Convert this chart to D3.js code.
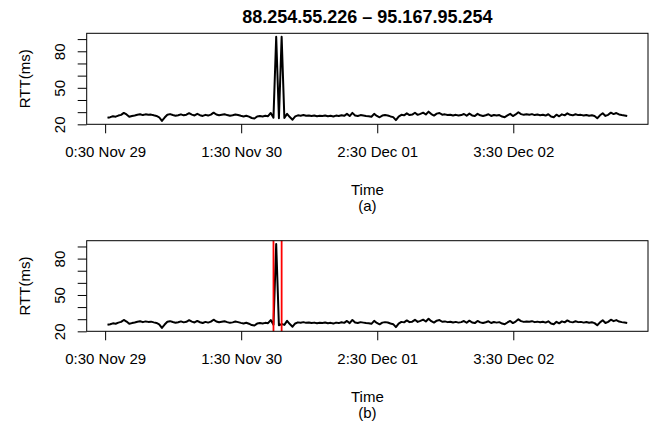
<!DOCTYPE html>
<html>
<head>
<meta charset="utf-8">
<script src="https://cdn.jsdelivr.net/npm/d3@7"></script>
<style>
  body { margin: 0; background: #fff; }
  svg { display: block; font-family: "Liberation Sans", Arial, sans-serif; }
</style>
</head>
<body>
<svg id="chart" width="656" height="430"></svg>
<script>
// samples every 30 min starting Nov 29 00:56
var startTime = "2013-11-29T00:56:00";
var stepMinutes = 30;

var rttA = [
  25.4, 25.9, 26.6, 26.3, 27.2, 27.8, 29.4, 28.1, 26.2, 26.8, 27.3, 27.9, 28.3, 27.6, 28.2, 27.8,
  28.0, 27.4, 26.9, 25.8, 22.8, 25.6, 27.9, 28.4, 27.7, 27.1, 27.5, 28.2, 27.4, 27.9, 29.2, 28.0,
  27.3, 28.6, 27.5, 26.9, 27.8, 27.2, 28.0, 29.6, 28.1, 27.5, 27.9, 28.3, 27.6, 27.0, 27.4, 28.1,
  27.6, 27.0, 26.5, 27.1, 26.3, 25.2, 24.8, 26.4, 26.8, 26.5, 27.0, 26.7, 29.3, 25.5, 92.0, 25.0,
  92.0, 25.3, 28.6, 26.0, 23.8, 26.5, 27.4, 27.1, 27.6, 27.0, 27.3, 26.8, 27.2, 26.6, 27.1, 26.9,
  27.3, 26.7, 27.0, 26.4, 27.2, 26.8, 27.5, 27.0, 28.6, 26.8, 29.4, 27.3, 26.9, 27.6, 27.2, 26.8,
  26.6, 26.2, 28.6, 26.9, 25.8, 27.2, 27.6, 27.3, 26.5, 25.9, 23.5, 26.4, 27.8, 27.4, 29.0, 27.6,
  28.0, 29.5, 27.8, 28.6, 29.6, 28.1, 30.4, 28.4, 27.2, 28.8, 29.3, 27.9, 28.2, 27.6, 27.9, 27.3,
  27.8, 27.2, 27.6, 28.5, 27.1, 28.8, 27.3, 26.8, 28.6, 27.4, 26.9, 27.5, 28.3, 26.9, 27.7, 27.2,
  27.6, 26.4, 25.9, 27.3, 28.6, 26.8, 28.1, 29.9, 28.4, 27.8, 28.2, 27.9, 28.4, 27.6, 28.0, 27.5,
  27.9, 27.2, 28.3, 26.4, 25.8, 27.9, 26.6, 28.2, 27.4, 29.0, 27.8, 27.4, 28.3, 27.6, 27.8, 27.2,
  27.7, 27.1, 27.5, 26.8, 25.0, 27.4, 29.1, 26.9, 27.8, 29.6, 28.4, 29.3, 28.1, 27.6, 27.3, 26.9
];

// panel (b): second spike sample removed
var cleanedIndex = [64];
var cleanedValue = [26.0];

// detected change points drawn in red on panel (b)
var changeTimes = ["2013-11-30T07:26:00", "2013-11-30T08:56:00"];

var xTickTimes = ["2013-11-29T00:30:00", "2013-11-30T01:30:00", "2013-12-01T02:30:00", "2013-12-02T03:30:00"];
var yTicks = [20, 30, 40, 50, 60, 70, 80, 90];
var yTickLabels = [20, 50, 80];

var title = "88.254.55.226 \u2013 95.167.95.254";
var xLabel = "Time";
var yLabel = "RTT(ms)";

var parseTime = d3.timeParse("%Y-%m-%dT%H:%M:%S");
var formatTick = d3.timeFormat("%-H:%M %b %d");

var t0 = parseTime(startTime);
var times = rttA.map(function (d, i) {
  return d3.timeMinute.offset(t0, i * stepMinutes);
});

var rttB = rttA.slice();
cleanedIndex.forEach(function (idx, k) {
  rttB[idx] = cleanedValue[k];
});

var svg = d3.select("#chart");

var left = 86.7,
  right = 648;

// R style 4% padding on both axes
function padded(ext) {
  var pad = (ext[1] - ext[0]) * 0.04;
  return [ext[0] - pad, ext[1] + pad];
}

var tExt = d3.extent(times, function (d) { return d.getTime(); });
var xScale = d3.scaleTime()
  .domain(padded(tExt).map(function (d) { return new Date(d); }))
  .range([left, right]);

var yDomain = padded(d3.extent(rttA));

function drawPanel(top, bottom, values, sub, marks) {
  var yScale = d3.scaleLinear().domain(yDomain).range([bottom, top]);
  var g = svg.append("g");

  var line = d3.line()
    .x(function (d, i) { return xScale(times[i]); })
    .y(function (d) { return yScale(d); });

  g.append("path")
    .datum(values)
    .attr("d", line)
    .attr("fill", "none")
    .attr("stroke", "#000")
    .attr("stroke-width", 2)
    .attr("stroke-linejoin", "round");

  if (marks) {
    g.selectAll("line.mark")
      .data(marks)
      .enter()
      .append("line")
      .attr("class", "mark")
      .attr("x1", function (d) { return xScale(parseTime(d)); })
      .attr("x2", function (d) { return xScale(parseTime(d)); })
      .attr("y1", top)
      .attr("y2", bottom)
      .attr("stroke", "#ff0000")
      .attr("stroke-width", 1.8);
  }

  g.append("rect")
    .attr("x", left)
    .attr("y", top)
    .attr("width", right - left)
    .attr("height", bottom - top)
    .attr("fill", "none")
    .attr("stroke", "#000")
    .attr("stroke-width", 1);

  // x axis
  var xAxis = d3.axisBottom(xScale)
    .tickValues(xTickTimes.map(parseTime))
    .tickFormat(formatTick)
    .tickSize(9)
    .tickPadding(14);
  var gx = g.append("g")
    .attr("transform", "translate(0," + bottom + ")")
    .call(xAxis);
  gx.select(".domain").remove();
  gx.selectAll(".tick line").attr("stroke", "#000");
  gx.selectAll(".tick text")
    .attr("font-size", 15)
    .attr("font-family", "Liberation Sans, Arial, sans-serif")
    .attr("fill", "#000")
    .attr("dy", null)
    .attr("y", 33);

  // y axis
  var yAxis = d3.axisLeft(yScale)
    .tickValues(yTicks)
    .tickFormat(function (d) { return yTickLabels.indexOf(d) >= 0 ? d : ""; })
    .tickSize(9);
  var gy = g.append("g")
    .attr("transform", "translate(" + left + ",0)")
    .call(yAxis);
  gy.select(".domain").remove();
  gy.selectAll(".tick line").attr("stroke", "#000");
  gy.selectAll(".tick text")
    .attr("font-size", 15)
    .attr("font-family", "Liberation Sans, Arial, sans-serif")
    .attr("fill", "#000")
    .attr("x", null)
    .attr("dy", null)
    .attr("text-anchor", "middle")
    .attr("transform", "translate(-22,0) rotate(-90)");

  var midX = (left + right) / 2;
  g.append("text")
    .attr("x", midX)
    .attr("y", bottom + 71)
    .attr("text-anchor", "middle")
    .attr("font-size", 15)
    .text(xLabel);

  g.append("text")
    .attr("x", midX)
    .attr("y", bottom + 86.5)
    .attr("text-anchor", "middle")
    .attr("font-size", 15)
    .text(sub);

  g.append("text")
    .attr("transform", "translate(30," + (top + bottom) / 2 + ") rotate(-90)")
    .attr("text-anchor", "middle")
    .attr("font-size", 15)
    .text(yLabel);
}

svg.append("text")
  .attr("x", (left + right) / 2)
  .attr("y", 22.5)
  .attr("text-anchor", "middle")
  .attr("font-size", 18)
  .attr("font-weight", "bold")
  .text(title);

drawPanel(33.3, 124.3, rttA, "(a)", null);
drawPanel(240.7, 331.3, rttB, "(b)", changeTimes);
</script>
</body>
</html>
